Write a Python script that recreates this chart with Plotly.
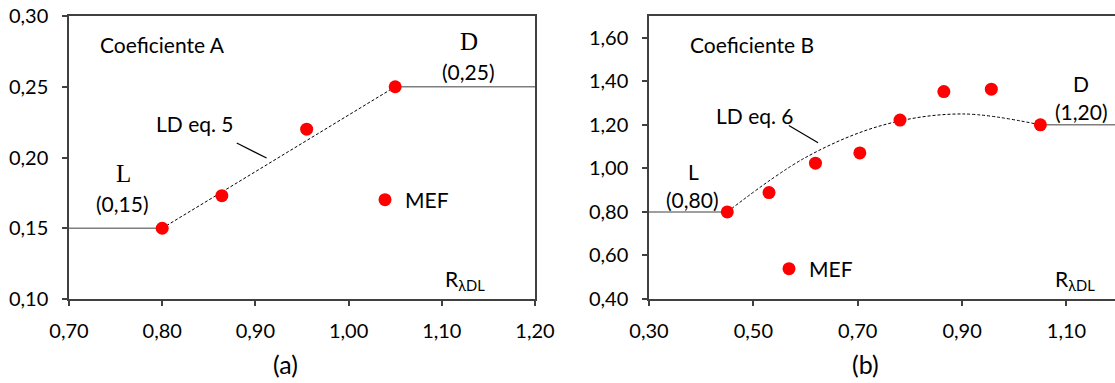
import plotly.graph_objects as go
from plotly.subplots import make_subplots

# Coefficient A (panel a)
a_mef_x = [0.80, 0.864, 0.955, 1.05]
a_mef_y = [0.150, 0.173, 0.220, 0.250]
a_ld_x = [0.80, 1.05]
a_ld_y = [0.15, 0.25]
a_L_x = [0.70, 0.80]
a_L_y = [0.15, 0.15]
a_D_x = [1.05, 1.20]
a_D_y = [0.25, 0.25]

# Coefficient B (panel b)
b_mef_x = [0.45, 0.530, 0.619, 0.704, 0.781, 0.865, 0.956, 1.05]
b_mef_y = [0.80, 0.889, 1.024, 1.071, 1.222, 1.353, 1.364, 1.20]
b_ld_x = [0.45, 0.60, 0.75, 0.90, 1.05]
b_ld_y = [0.80, 1.05, 1.20, 1.25, 1.20]
b_L_x = [0.30, 0.45]
b_L_y = [0.80, 0.80]
b_D_x = [1.05, 1.25]
b_D_y = [1.20, 1.20]

a_xticks = [0.70, 0.80, 0.90, 1.00, 1.10, 1.20]
a_yticks = [0.10, 0.15, 0.20, 0.25, 0.30]
b_xticks = [0.30, 0.50, 0.70, 0.90, 1.10]
b_yticks = [0.40, 0.60, 0.80, 1.00, 1.20, 1.40, 1.60]

SANS = "Lato"
SERIF = "Liberation Serif"
AXIS = "#404040"
REF = "#7f7f7f"
RED = "#ff0000"
TXT = 21


def fmt(v):
    return f"{v:.2f}".replace(".", ",")


fig = make_subplots(rows=1, cols=2)

for col, (lx, ly, dx, dy, ldx, ldy, mx, my, shape, leg) in enumerate([
    (a_L_x, a_L_y, a_D_x, a_D_y, a_ld_x, a_ld_y, a_mef_x, a_mef_y, "linear", "legend"),
    (b_L_x, b_L_y, b_D_x, b_D_y, b_ld_x, b_ld_y, b_mef_x, b_mef_y, "spline", "legend2"),
], start=1):
    fig.add_trace(go.Scatter(x=lx, y=ly, mode="lines", line=dict(color=REF, width=1.5),
                             showlegend=False, hoverinfo="skip"), row=1, col=col)
    fig.add_trace(go.Scatter(x=dx, y=dy, mode="lines", line=dict(color=REF, width=1.5),
                             showlegend=False, hoverinfo="skip"), row=1, col=col)
    fig.add_trace(go.Scatter(x=ldx, y=ldy, mode="lines",
                             line=dict(color="black", width=1, dash="3px,2px", shape=shape),
                             showlegend=False, hoverinfo="skip"), row=1, col=col)
    fig.add_trace(go.Scatter(x=mx, y=my, mode="markers", name="MEF",
                             marker=dict(color=RED, size=13, line=dict(width=0)),
                             legend=leg), row=1, col=col)

axis_common = dict(showgrid=False, zeroline=False, showline=True, linecolor=AXIS,
                   linewidth=1.5, ticks="outside", ticklen=5, tickcolor=AXIS, tickwidth=1.5,
                   automargin=False,
                   tickfont=dict(family=SANS, size=20, color="black"))

fig.update_xaxes(range=[0.70, 1.20], tickvals=a_xticks, ticktext=[fmt(v) for v in a_xticks],
                 domain=[69 / 1115, 535 / 1115], mirror=True, ticklabelstandoff=8,
                 row=1, col=1, **axis_common)
fig.update_yaxes(range=[0.10, 0.30], tickvals=a_yticks, ticktext=[fmt(v) for v in a_yticks],
                 mirror=True, ticklabelstandoff=10, row=1, col=1, **axis_common)
fig.update_xaxes(range=[0.30, 1.193], tickvals=b_xticks, ticktext=[fmt(v) for v in b_xticks],
                 domain=[649 / 1115, 1.0], mirror=True, ticklabelstandoff=8,
                 row=1, col=2, **axis_common)
fig.update_yaxes(range=[0.40, 1.70], tickvals=b_yticks, ticktext=[fmt(v) for v in b_yticks],
                 mirror=True, ticklabelstandoff=10, row=1, col=2, **axis_common)


def txt(ref, x, y, s, size=TXT, family=SANS):
    fig.add_annotation(xref=ref[0], yref=ref[1], x=x, y=y, text=s, showarrow=False,
                       font=dict(family=family, size=size, color="black"),
                       xanchor="center", yanchor="middle")


A = ("x", "y")
B = ("x2", "y2")

txt(A, 0.80, 0.280, "Coeficiente A")
txt(A, 0.835, 0.2237, "LD eq. 5")
txt(A, 0.758, 0.1890, "L", size=25, family=SERIF)
txt(A, 0.757, 0.1678, "(0,15)")
txt(A, 1.129, 0.2823, "D", size=25, family=SERIF)
txt(A, 1.129, 0.2611, "(0,25)")
txt(A, 1.125, 0.1134, "R<sub>λDL</sub>")
fig.add_shape(type="line", xref="x", yref="y", x0=0.880, y0=0.2102, x1=0.912, y1=0.1996,
              line=dict(color="black", width=1.2))

txt(B, 0.497, 1.569, "Coeficiente B")
txt(B, 0.503, 1.243, "LD eq. 6")
txt(B, 0.386, 0.985, "L")
txt(B, 0.384, 0.856, "(0,80)")
txt(B, 1.128, 1.390, "D")
txt(B, 1.128, 1.261, "(1,20)")
txt(B, 1.116, 0.487, "R<sub>λDL</sub>")
fig.add_shape(type="line", xref="x2", yref="y2", x0=0.568, y0=1.197, x1=0.624, y1=1.118,
              line=dict(color="black", width=1.2))

fig.add_annotation(xref="paper", yref="paper", x=285 / 1115, y=-0.23, text="(a)", showarrow=False,
                   font=dict(family=SANS, size=25, color="black"), xanchor="center", yanchor="middle")
fig.add_annotation(xref="paper", yref="paper", x=865 / 1115, y=-0.23, text="(b)", showarrow=False,
                   font=dict(family=SANS, size=25, color="black"), xanchor="center", yanchor="middle")

legend_style = dict(bgcolor="rgba(0,0,0,0)", borderwidth=0, font=dict(family=SANS, size=TXT, color="black"),
                    xanchor="left", yanchor="middle", itemwidth=30)
fig.update_layout(
    width=1115, height=383,
    margin=dict(l=0, r=0, t=16, b=84),
    paper_bgcolor="white", plot_bgcolor="white",
    showlegend=True,
    legend=dict(x=365 / 1115, y=(299 - 200) / 283, **legend_style),
    legend2=dict(x=769 / 1115, y=(299 - 269) / 283, **legend_style),
)

fig.write_html("out.html")
